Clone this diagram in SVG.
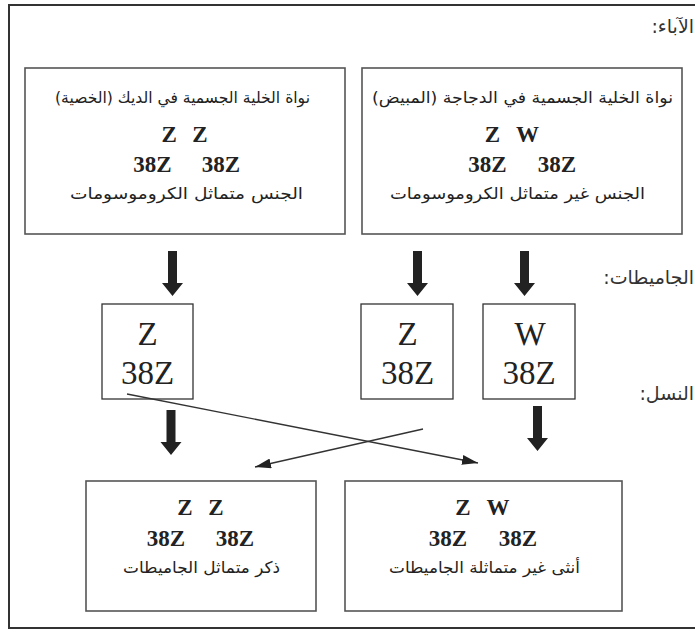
<svg xmlns="http://www.w3.org/2000/svg" width="695" height="629" viewBox="0 0 695 629">
<style>
.box{fill:#fff;stroke:#555;stroke-width:1.6}
.gbox{fill:#fff;stroke:#333;stroke-width:1.3}
.ar{font-family:'DejaVu Sans','Noto Sans',sans-serif;font-size:16px;fill:#222;text-anchor:middle}
.lbl{font-family:'DejaVu Sans','Noto Sans',sans-serif;font-size:19px;fill:#333}
.bz{font-family:'Liberation Serif','Times New Roman','DejaVu Serif',serif;font-size:23px;font-weight:bold;fill:#222;text-anchor:middle}
.gz{font-family:'Liberation Serif','Times New Roman','DejaVu Serif',serif;font-size:33px;fill:#222;text-anchor:middle}
.thin{fill:none;stroke:#333;stroke-width:1.3}
.thick{fill:#222}
</style>
<defs>
<path id="tharrow" d="M-4.5 0 H4.5 V32 H10.5 L0 45 L-10.5 32 H-4.5 Z"/>
<marker id="ah" markerWidth="16" markerHeight="10" refX="16" refY="5" orient="auto" markerUnits="userSpaceOnUse">
<path d="M0 0 L16 5 L0 10 Z" fill="#222"/>
</marker>
</defs>
<rect width="695" height="629" fill="#fff"/>
<path d="M700 5 H9 V628 H700" fill="none" stroke="#333" stroke-width="2"/>

<g id="labels">
<text class="lbl" x="694" y="33" direction="rtl" text-anchor="start">الآباء:</text>
<text class="lbl" x="694" y="284" direction="rtl" text-anchor="start">الجاميطات:</text>
<text class="lbl" x="694" y="400" direction="rtl" text-anchor="start">النسل:</text>
</g>

<g id="parent-male">
<rect class="box" x="25" y="68" width="320" height="166"/>
<text class="ar" x="182.5" y="103" direction="rtl" textLength="255" lengthAdjust="spacingAndGlyphs">نواة الخلية الجسمية في الديك (الخصية)</text>
<text class="bz" x="169.2" y="142">Z</text>
<text class="bz" x="200" y="142">Z</text>
<text class="bz" x="152.5" y="172">38Z</text>
<text class="bz" x="221" y="172">38Z</text>
<text class="ar" x="186.5" y="199" direction="rtl" textLength="233" lengthAdjust="spacingAndGlyphs">الجنس متماثل الكروموسومات</text>
</g>

<g id="parent-female">
<rect class="box" x="362" y="68" width="320" height="166"/>
<text class="ar" x="522.5" y="103" direction="rtl" textLength="301" lengthAdjust="spacingAndGlyphs">نواة الخلية الجسمية في الدجاجة (المبيض)</text>
<text class="bz" x="492.5" y="142">Z</text>
<text class="bz" x="527.5" y="142">W</text>
<text class="bz" x="487.5" y="172">38Z</text>
<text class="bz" x="557" y="172">38Z</text>
<text class="ar" x="517.5" y="199" direction="rtl" textLength="255" lengthAdjust="spacingAndGlyphs">الجنس غير متماثل الكروموسومات</text>
</g>

<g id="gamete-male-z">
<rect class="gbox" x="102" y="304" width="91" height="95"/>
<text class="gz" x="147.5" y="345">Z</text>
<text class="gz" x="147.5" y="384">38Z</text>
</g>

<g id="gamete-female-z">
<rect class="gbox" x="361" y="304" width="92" height="95"/>
<text class="gz" x="407.5" y="345">Z</text>
<text class="gz" x="407.5" y="384">38Z</text>
</g>

<g id="gamete-female-w">
<rect class="gbox" x="483" y="304" width="92" height="95"/>
<text class="gz" x="530" y="345">W</text>
<text class="gz" x="529" y="384">38Z</text>
</g>

<g id="offspring-male">
<rect class="box" x="86" y="481" width="230" height="130"/>
<text class="bz" x="185" y="515">Z</text>
<text class="bz" x="216" y="515">Z</text>
<text class="bz" x="166" y="546">38Z</text>
<text class="bz" x="235" y="546">38Z</text>
<text class="ar" x="201.5" y="573" direction="rtl" textLength="157" lengthAdjust="spacingAndGlyphs">ذكر متماثل الجاميطات</text>
</g>

<g id="offspring-female">
<rect class="box" x="345" y="481" width="277" height="130"/>
<text class="bz" x="463" y="515">Z</text>
<text class="bz" x="498" y="515">W</text>
<text class="bz" x="448" y="546">38Z</text>
<text class="bz" x="518" y="546">38Z</text>
<text class="ar" x="484.5" y="573" direction="rtl" textLength="191" lengthAdjust="spacingAndGlyphs">أنثى غير متماثلة  الجاميطات</text>
</g>

<g id="connectors">
<use href="#tharrow" class="thick" x="172.5" y="251"/>
<use href="#tharrow" class="thick" x="417.5" y="251"/>
<use href="#tharrow" class="thick" x="524.5" y="251"/>
<use href="#tharrow" class="thick" x="171" y="410"/>
<use href="#tharrow" class="thick" x="537.5" y="406"/>
<path class="thin" d="M127 394 L478 463" marker-end="url(#ah)"/>
<path class="thin" d="M423 429 L255 467" marker-end="url(#ah)"/>
</g>
</svg>
